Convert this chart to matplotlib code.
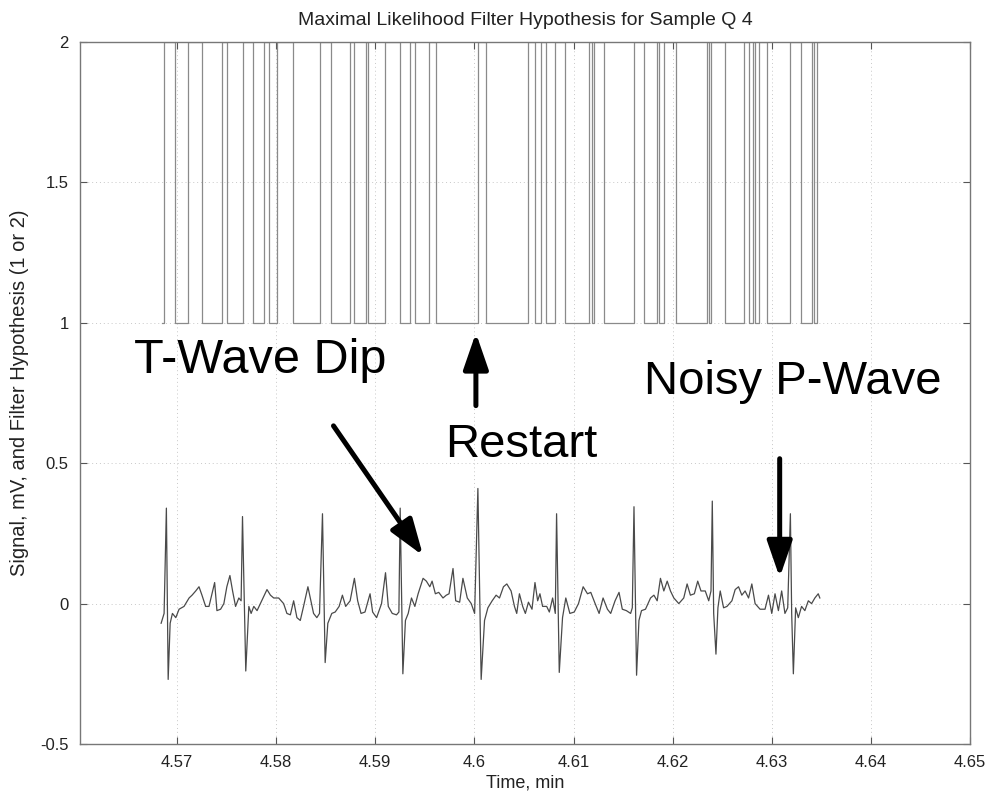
import matplotlib
matplotlib.use("Agg")
import matplotlib.pyplot as plt
from matplotlib import font_manager

# ---------------- data ----------------
# ECG signal (time in minutes, signal in mV)
ecg_time = [
    4.56839, 4.56869, 4.56892, 4.56910, 4.56930, 4.56953, 4.56987, 4.57020, 4.57070, 4.57121,
    4.57151, 4.57188, 4.57221, 4.57251, 4.57288, 4.57322, 4.57352, 4.57379, 4.57402, 4.57439,
    4.57472, 4.57502, 4.57533, 4.57560, 4.57590, 4.57623, 4.57646, 4.57660, 4.57693, 4.57724,
    4.57747, 4.57774, 4.57807, 4.57854, 4.57907, 4.57942, 4.57975, 4.58025, 4.58075, 4.58108,
    4.58143, 4.58176, 4.58209, 4.58243, 4.58276, 4.58320, 4.58350, 4.58377, 4.58410, 4.58437,
    4.58467, 4.58494, 4.58521, 4.58561, 4.58595, 4.58635, 4.58668, 4.58701, 4.58746, 4.58789,
    4.58822, 4.58856, 4.58896, 4.58947, 4.58973, 4.59013, 4.59063, 4.59103, 4.59131, 4.59171,
    4.59214, 4.59238, 4.59251, 4.59278, 4.59304, 4.59332, 4.59365, 4.59399, 4.59432, 4.59482,
    4.59515, 4.59550, 4.59573, 4.59606, 4.59640, 4.59683, 4.59716, 4.59744, 4.59784, 4.59811,
    4.59851, 4.59884, 4.59928, 4.59968, 4.60002, 4.60035, 4.60068, 4.60102, 4.60136, 4.60179,
    4.60219, 4.60253, 4.60293, 4.60327, 4.60370, 4.60404, 4.60427, 4.60454, 4.60487, 4.60514,
    4.60545, 4.60581, 4.60611, 4.60638, 4.60661, 4.60688, 4.60729, 4.60756, 4.60789, 4.60816,
    4.60829, 4.60856, 4.60889, 4.60922, 4.60963, 4.61007, 4.61050, 4.61097, 4.61141, 4.61174,
    4.61218, 4.61258, 4.61298, 4.61342, 4.61375, 4.61419, 4.61459, 4.61492, 4.61533, 4.61576,
    4.61593, 4.61610, 4.61636, 4.61660, 4.61686, 4.61726, 4.61777, 4.61811, 4.61844, 4.61877,
    4.61911, 4.61945, 4.61978, 4.62012, 4.62062, 4.62112, 4.62146, 4.62179, 4.62219, 4.62253,
    4.62286, 4.62329, 4.62364, 4.62387, 4.62400, 4.62414, 4.62437, 4.62457, 4.62480, 4.62514,
    4.62548, 4.62598, 4.62631, 4.62665, 4.62698, 4.62731, 4.62766, 4.62799, 4.62832, 4.62882,
    4.62932, 4.62967, 4.63000, 4.63033, 4.63067, 4.63100, 4.63133, 4.63161, 4.63188, 4.63201,
    4.63218, 4.63241, 4.63268, 4.63301, 4.63334, 4.63369, 4.63402, 4.63435, 4.63469, 4.63485,
]
ecg_mv = [
    -0.070, -0.035, 0.340, -0.270, -0.070, -0.035, -0.050, -0.020, -0.010, 0.020,
    0.030, 0.045, 0.060, 0.030, -0.010, -0.010, 0.035, 0.075, -0.025, -0.020,
    0.000, 0.060, 0.100, 0.045, -0.010, 0.020, 0.010, 0.310, -0.240, -0.010,
    -0.035, -0.010, -0.025, 0.010, 0.050, 0.030, 0.020, 0.020, 0.000, -0.035,
    -0.040, 0.010, -0.050, -0.060, -0.010, 0.060, 0.010, -0.035, -0.050, -0.035,
    0.320, -0.210, -0.070, -0.035, -0.030, -0.010, 0.030, -0.010, 0.010, 0.090,
    0.010, -0.035, -0.030, 0.035, -0.030, -0.050, 0.000, 0.110, -0.010, -0.035,
    -0.040, -0.030, 0.340, -0.250, -0.060, -0.035, 0.020, -0.010, 0.035, 0.090,
    0.080, 0.060, 0.080, 0.035, 0.040, 0.020, 0.030, 0.035, 0.125, 0.010,
    0.005, 0.090, 0.020, 0.000, -0.035, 0.410, -0.270, -0.060, -0.015, 0.010,
    0.030, 0.020, 0.060, 0.070, 0.045, -0.010, -0.035, 0.035, -0.010, -0.035,
    0.005, -0.020, 0.075, 0.010, 0.035, -0.010, -0.010, -0.030, 0.020, -0.035,
    0.320, -0.245, -0.050, 0.020, -0.035, -0.030, 0.000, 0.060, 0.035, 0.040,
    0.000, -0.035, 0.020, -0.020, -0.035, 0.010, 0.040, -0.020, -0.025, -0.035,
    -0.015, 0.345, -0.255, -0.060, -0.025, -0.020, 0.020, 0.030, 0.010, 0.090,
    0.045, 0.080, 0.045, 0.020, 0.000, 0.020, 0.070, 0.030, 0.035, 0.080,
    0.045, 0.045, 0.010, 0.045, 0.365, -0.035, -0.180, -0.015, 0.045, -0.015,
    -0.010, 0.010, 0.050, 0.060, 0.030, 0.045, 0.020, 0.070, 0.000, -0.020,
    -0.020, 0.030, -0.035, 0.035, -0.025, 0.045, -0.035, -0.015, 0.320, -0.035,
    -0.250, -0.015, -0.050, -0.010, -0.025, 0.010, 0.000, 0.020, 0.035, 0.020,
]

# Filter hypothesis (1 or 2), piecewise constant, value holds from each time on
hyp_time = [
    4.56849, 4.56869, 4.56980, 4.57110, 4.57251, 4.57452, 4.57502, 4.57663, 4.57764, 4.57874,
    4.57925, 4.58005, 4.58166, 4.58447, 4.58548, 4.58749, 4.58789, 4.58909, 4.58930, 4.59100,
    4.59251, 4.59352, 4.59402, 4.59543, 4.59613, 4.60035, 4.60115, 4.60538, 4.60608, 4.60668,
    4.60718, 4.60809, 4.60909, 4.61160, 4.61191, 4.61211, 4.61311, 4.61613, 4.61713, 4.61844,
    4.61864, 4.61914, 4.62035, 4.62346, 4.62367, 4.62387, 4.62527, 4.62718, 4.62769, 4.62809,
    4.62829, 4.62869, 4.62950, 4.63181, 4.63291, 4.63402, 4.63422, 4.63452, 4.63472,
]
hyp_value = [
    1, 2, 1, 2, 1, 2, 1, 2, 1, 2,
    1, 2, 1, 2, 1, 2, 1, 2, 1, 2,
    1, 2, 1, 2, 1, 2, 1, 2, 1, 2,
    1, 2, 1, 2, 1, 2, 1, 2, 1, 2,
    1, 2, 1, 2, 1, 2, 1, 2, 1, 2,
    1, 2, 1, 2, 1, 2, 1, 2, 2,
]

x_ticks = [4.57, 4.58, 4.59, 4.60, 4.61, 4.62, 4.63, 4.64, 4.65]
x_tick_labels = ["4.57", "4.58", "4.59", "4.6", "4.61", "4.62", "4.63", "4.64", "4.65"]
y_ticks = [-0.5, 0, 0.5, 1, 1.5, 2]
y_tick_labels = ["-0.5", "0", "0.5", "1", "1.5", "2"]

title_text = "Maximal Likelihood Filter Hypothesis for Sample Q 4"
x_label = "Time, min"
y_label = "Signal, mV, and Filter Hypothesis (1 or 2)"

# ---------------- fonts ----------------
available = {f.name for f in font_manager.fontManager.ttflist}
small_font = "Liberation Sans Narrow" if "Liberation Sans Narrow" in available else "Liberation Sans"
big_font = "Liberation Sans"

# ---------------- figure ----------------
fig = plt.figure(figsize=(9.92, 7.97), dpi=100)
ax = fig.add_axes([0.0806, 0.0665, 0.8972, 0.8808])

ax.step(hyp_time, hyp_value, where="post", color="#8a8a8a", lw=0.9)
ax.plot(ecg_time, ecg_mv, color="#4a4a4a", lw=0.9)

ax.set_xlim(4.5602, 4.65)
ax.set_ylim(-0.5, 2)
ax.set_xticks(x_ticks)
ax.set_xticklabels(x_tick_labels)
ax.set_yticks(y_ticks)
ax.set_yticklabels(y_tick_labels)

ax.grid(True, color="#c8c8c8", linestyle=(0, (1, 3)), lw=0.7)
ax.tick_params(direction="in", length=5, width=0.8, top=True, right=True,
               colors="#555555", labelcolor="#222222", labelsize=12, pad=8)
for lab in ax.get_xticklabels() + ax.get_yticklabels():
    lab.set_family(small_font)
for sp in ax.spines.values():
    sp.set_color("#777777")
    sp.set_linewidth(1.0)

ax.set_title(title_text, fontsize=14, family=small_font, color="#222222", pad=12)
ax.set_xlabel(x_label, fontsize=13, family=small_font, color="#222222", labelpad=3)
ax.set_ylabel(y_label, fontsize=14.5, family=small_font, color="#222222", labelpad=8)

# ---------------- annotations ----------------
arrow_kw = dict(arrowstyle="-|>,head_length=1.1,head_width=0.38", lw=3.6, color="black",
                shrinkA=0, shrinkB=0, mutation_scale=20)
ax.annotate("", xy=(4.59482, 0.171), xytext=(4.58578, 0.633), arrowprops=arrow_kw)
ax.annotate("", xy=(4.60015, 0.964), xytext=(4.60015, 0.705), arrowprops=arrow_kw)
ax.annotate("", xy=(4.63080, 0.093), xytext=(4.63080, 0.516), arrowprops=arrow_kw)

ax.text(4.56568, 0.822, "T-Wave Dip", fontsize=35, family=big_font, va="baseline", ha="left")
ax.text(4.59703, 0.523, "Restart", fontsize=34, family=big_font, va="baseline", ha="left")
ax.text(4.61713, 0.747, "Noisy P-Wave", fontsize=34, family=big_font, va="baseline", ha="left")

fig.savefig("out.png", dpi=100)
